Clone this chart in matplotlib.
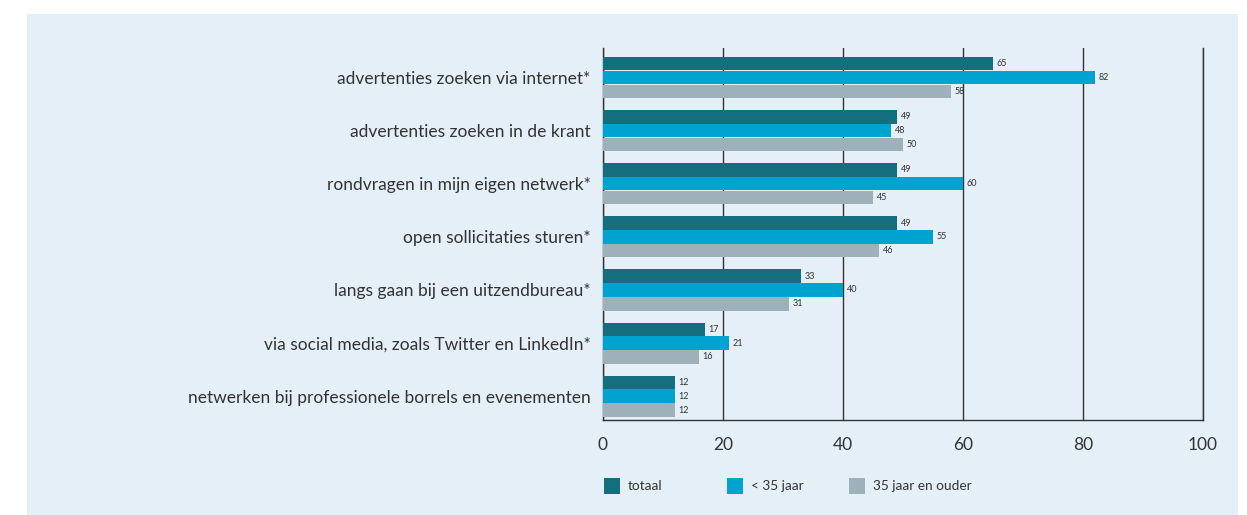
import numpy as np
import matplotlib.pyplot as plt
from matplotlib.patches import Rectangle

# ---- data ----
categories = [
    "advertenties zoeken via internet*",
    "advertenties zoeken in de krant",
    "rondvragen in mijn eigen netwerk*",
    "open sollicitaties sturen*",
    "langs gaan bij een uitzendbureau*",
    "via social media, zoals Twitter en LinkedIn*",
    "netwerken bij professionele borrels en evenementen",
]
totaal = [65, 49, 49, 49, 33, 17, 12]
jong = [82, 48, 60, 55, 40, 21, 12]
ouder = [58, 50, 45, 46, 31, 16, 12]
series_names = ["totaal", "< 35 jaar", "35 jaar en ouder"]

colors = ["#146e7d", "#00a3cf", "#9eb1bb"]
bg = "#e4eff8"
plt.rcParams['font.family'] = ['Lato', 'DejaVu Sans']

fig = plt.figure(figsize=(12.47, 5.15), dpi=100)
fig.patch.set_facecolor("white")
fig.patches.append(Rectangle((27/1247, 0), (1238-27)/1247, 1 - 14/515,
                             transform=fig.transFigure, facecolor=bg,
                             edgecolor="none", zorder=-10))

ax = fig.add_axes([603/1247, 1 - 420/515, 600/1247, (420-48)/515])
ax.set_facecolor("none")

y = np.arange(len(categories))
h = 0.25
for i, (vals, c) in enumerate(zip([totaal, jong, ouder], colors)):
    pos = y + (i - 1) * 0.262
    ax.barh(pos, vals, height=h, color=c, zorder=3)
    for p, v in zip(pos, vals):
        ax.text(v + 0.6, p, str(v), va="center", ha="left", fontsize=6.5,
                color="#333333", zorder=4)

ax.set_xlim(0, 100)
ax.set_ylim(6.45, -0.56)
ax.set_xticks(range(0, 101, 20))
ax.set_yticks(y)
ax.set_yticklabels(categories, fontsize=12.5, color="#333333",
                   va="center_baseline")
ax.tick_params(axis="both", length=0)
ax.tick_params(axis="y", pad=9)
ax.tick_params(axis="x", pad=12, labelsize=12.5, labelcolor="#333333")
ax.xaxis.grid(True, color="#333333", linewidth=1, zorder=1)
for s in ["left", "bottom", "right"]:
    ax.spines[s].set_color("#333333")
    ax.spines[s].set_linewidth(1)
ax.spines["top"].set_visible(False)

# ---- legend ----
leg_x = [604, 727, 849]
for xpix, name, c in zip(leg_x, series_names, colors):
    fig.patches.append(Rectangle((xpix/1247, 1 - 494/515), 16/1247, 16/515,
                                 transform=fig.transFigure, facecolor=c,
                                 edgecolor="none"))
    fig.text((xpix + 24)/1247, 1 - 486/515, name, fontsize=9.8,
             color="#333333", va="center", ha="left")

fig.savefig("out.png", dpi=100, facecolor=fig.get_facecolor())
